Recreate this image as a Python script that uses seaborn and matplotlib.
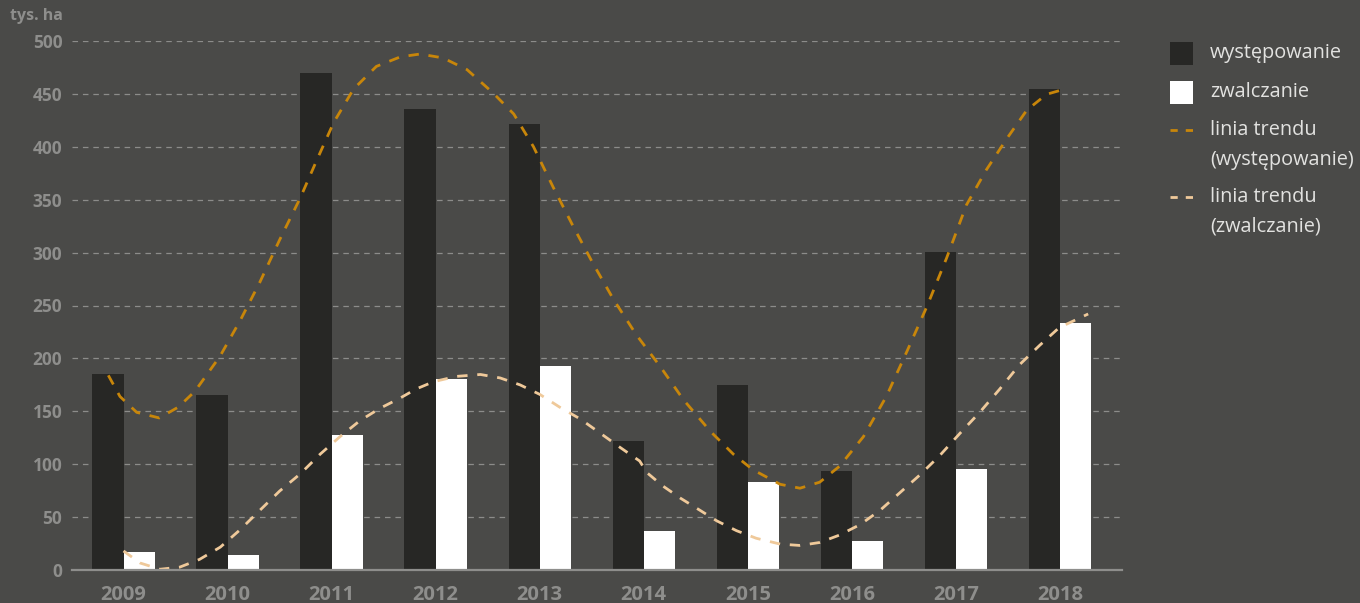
import numpy as np
import pandas as pd
import matplotlib
matplotlib.use("Agg")
import matplotlib.pyplot as plt
import seaborn as sns
from matplotlib.patches import Rectangle
from matplotlib.lines import Line2D

# ---------------- data ----------------
years = ["2009", "2010", "2011", "2012", "2013", "2014", "2015", "2016", "2017", "2018"]
wystepowanie = [185.5, 165.6, 469.5, 435.3, 422.0, 122.1, 175.2, 93.9, 300.9, 454.2]
zwalczanie = [17.3, 14.3, 127.7, 180.8, 193.1, 37.2, 83.3, 27.5, 95.6, 233.9]

# trend lines (t = fractional year index, value in tys. ha)
trend_w_t = [-0.146, -0.034, 0.127, 0.344, 0.527, 0.687, 0.927, 1.12, 1.31, 1.50, 1.70, 1.86,
             2.02, 2.21, 2.43, 2.66, 2.85, 3.07, 3.30, 3.55, 3.75, 3.94, 4.13, 4.32, 4.51,
             4.71, 4.93, 5.16, 5.38, 5.64, 5.86, 6.05, 6.12, 6.31, 6.50, 6.69, 6.88, 7.11,
             7.33, 7.53, 7.72, 7.91, 8.10, 8.29, 8.49, 8.68, 8.87, 9.06]
trend_w_v = [184, 164, 149, 143.7, 154, 169, 202, 235.6, 272, 312, 352, 388,
             423, 454.5, 476, 485, 487.7, 484, 473, 451, 431, 400, 361.6, 325, 290,
             255.5, 222, 192, 161, 131, 109.5, 94.6, 91, 81, 77.3, 83, 98, 126,
             164, 207, 249, 295, 345, 378, 408, 434.6, 449.6, 455]
trend_z_t = [0.0, 0.16, 0.35, 0.54, 0.73, 0.93, 1.12, 1.31, 1.50, 1.70, 1.89, 2.08, 2.27,
             2.46, 2.66, 2.81, 2.98, 3.20, 3.43, 3.62, 3.81, 4.00, 4.19, 4.39, 4.58, 4.77,
             4.96, 5.03, 5.18, 5.35, 5.54, 5.70, 5.89, 6.08, 6.31, 6.50, 6.69, 6.88, 7.08,
             7.27, 7.46, 7.65, 7.84, 8.04, 8.23, 8.42, 8.61, 8.80, 8.99, 9.27]
trend_z_v = [18, 6.6, 0.7, 2.7, 10, 21.6, 38, 56.4, 74.6, 91, 109.5, 126, 141,
             152.6, 162.6, 171, 178, 183, 184.8, 181.5, 175, 166, 154, 142.7, 129.4, 116,
             103, 92, 79.6, 68, 56.4, 46.5, 37.2, 30, 24.5, 23.2, 26, 33, 43,
             56.4, 73, 89.6, 107.8, 129.4, 149.3, 171, 194, 212, 229, 242]

yticks = [0, 50, 100, 150, 200, 250, 300, 350, 400, 450, 500]
series_names = ["występowanie", "zwalczanie"]
legend_labels = ["występowanie", "zwalczanie", "linia trendu\n(występowanie)", "linia trendu\n(zwalczanie)"]

# ---------------- style ----------------
BG = "#4a4a48"
DARK = "#272725"
WHITE = "#ffffff"
ORANGE = "#c8860a"
LIGHT = "#efc99a"
GRID = "#8c8c8a"
TICK = "#8e8e8c"
LEGTXT = "#e2e2e0"

sns.set_theme(style="dark")
plt.rcParams["font.family"] = ["Open Sans", "DejaVu Sans"]
plt.rcParams["lines.scale_dashes"] = False

W, H = 1360, 603
fig = plt.figure(figsize=(W / 100, H / 100), dpi=100, facecolor=BG)
ax = fig.add_axes([72 / W, 1 - 570 / H, (1122 - 72) / W, (570 - 41) / H])
ax.set_facecolor(BG)

df = pd.DataFrame({
    "rok": years * 2,
    "tys_ha": wystepowanie + zwalczanie,
    "seria": [series_names[0]] * len(years) + [series_names[1]] * len(years),
})
sns.barplot(data=df, x="rok", y="tys_ha", hue="seria", hue_order=series_names,
            palette=[DARK, WHITE], width=0.6, gap=0, saturation=1, ax=ax,
            legend=False, edgecolor="none", linewidth=0, zorder=2)

dash = (0, (7.5, 7))
sns.lineplot(x=trend_w_t, y=trend_w_v, ax=ax, color=ORANGE, sort=False, estimator=None,
             linewidth=2.0, linestyle=dash, zorder=4, clip_on=False)
sns.lineplot(x=trend_z_t, y=trend_z_v, ax=ax, color=LIGHT, sort=False, estimator=None,
             linewidth=2.0, linestyle=dash, zorder=4, clip_on=False)

ax.set_xlim(-0.495, 9.595)
ax.set_ylim(0, 500)
ax.set_yticks(yticks)
ax.set_yticklabels([str(v) for v in yticks])
ax.set_xlabel("")
ax.set_ylabel("")
ax.set_axisbelow(True)
ax.yaxis.grid(True, linestyle=(0, (4, 3.5)), color=GRID, linewidth=0.9)
ax.xaxis.grid(False)
for s in ["top", "right", "left"]:
    ax.spines[s].set_visible(False)
ax.spines["bottom"].set_color(TICK)
ax.spines["bottom"].set_linewidth(1.6)
ax.spines["bottom"].set_zorder(5)
ax.tick_params(axis="y", length=0, pad=7, labelsize=12.5, labelcolor=TICK)
ax.tick_params(axis="x", length=0, pad=11, labelsize=14.5, labelcolor=TICK)
for lab in ax.get_yticklabels() + ax.get_xticklabels():
    lab.set_fontweight("bold")

fig.text(10 / W, 1 - 16 / H, "tys. ha", ha="left", va="center", fontsize=11.5,
         fontweight="bold", color=TICK)

# ---------------- legend (drawn in figure pixels) ----------------
def fx(x):
    return x / W

def fy(y):
    return 1 - y / H

fig.add_artist(Rectangle((fx(1170), fy(65)), 23 / W, 23 / H, transform=fig.transFigure,
                         facecolor=DARK, edgecolor="none"))
fig.add_artist(Rectangle((fx(1170), fy(104)), 23 / W, 23 / H, transform=fig.transFigure,
                         facecolor=WHITE, edgecolor="none"))
for yy, col in [(130, ORANGE), (197, LIGHT)]:
    fig.add_artist(Line2D([fx(1170), fx(1193)], [fy(yy), fy(yy)], transform=fig.transFigure,
                          color=col, linewidth=2.0, linestyle=(0, (5.2, 5.8))))

leg_y = [53, 92, 130, 197]
for lab, yy in zip(legend_labels, leg_y):
    lines = lab.split("\n")
    for k, line in enumerate(lines):
        fig.text(fx(1210), fy(yy + k * 30), line, ha="left", va="center", fontsize=14.3,
                 color=LEGTXT)

fig.savefig("out.png", dpi=100, facecolor=BG)
